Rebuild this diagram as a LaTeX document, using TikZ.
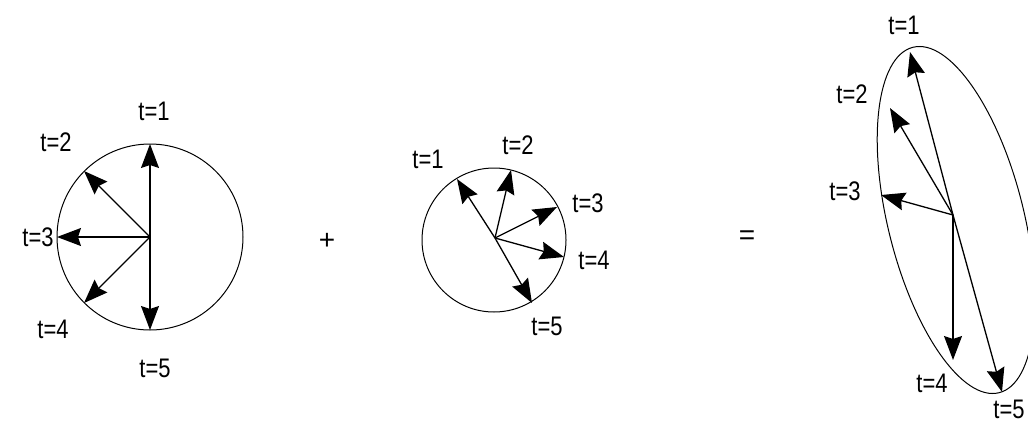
\documentclass[tikz,border=0pt]{standalone}
\usepackage{fontspec}
\usepackage{graphicx}
\setmainfont{Liberation Sans}
\usetikzlibrary{arrows.meta}
\newcommand\tallt[1]{\scalebox{1}[1.22]{#1}}
\begin{document}
\begin{tikzpicture}[x=1pt,y=-1pt,
  curve/.style={line width=1pt},
  vec/.style={line width=1.3pt,-{Stealth[length=24pt,width=18pt,inset=3pt]}},
  lbl/.style={inner sep=0pt,font=\fontsize{22}{26}\selectfont},
  opsign/.style={inner sep=0pt,font=\fontsize{28}{32}\selectfont}]
\useasboundingbox (0,0) rectangle (1028,423);
% ---------- first circle ----------
\coordinate (c1) at (150,237);
\draw[curve] (c1) circle[radius=93pt];
\coordinate (a1) at (150,144);
\coordinate (a2) at (84,171);
\coordinate (a3) at (57,237);
\coordinate (a4) at (84,303);
\coordinate (a5) at (150,330);
\foreach \i in {1,...,5} \draw[vec] (c1) -- (a\i);
\node[lbl] (la1) at (154,111) {\tallt{t=1}};
\node[lbl] (la2) at (56,142) {\tallt{t=2}};
\node[lbl] (la3) at (38,237) {\tallt{t=3}};
\node[lbl] (la4) at (53,329) {\tallt{t=4}};
\node[lbl] (la5) at (155,368) {\tallt{t=5}};
% ---------- plus ----------
\node[opsign] (plus) at (327,241) {+};
% ---------- second circle ----------
\coordinate (c2) at (494,240);
\coordinate (o2) at (495,238);
\draw[curve] (c2) circle[radius=72pt];
\coordinate (b1) at (457,179);
\coordinate (b2) at (511,170);
\coordinate (b3) at (557,207);
\coordinate (b4) at (564,257);
\coordinate (b5) at (532,303);
\foreach \i in {1,...,5} \draw[vec] (o2) -- (b\i);
\node[lbl] (lb1) at (428,159) {\tallt{t=1}};
\node[lbl] (lb2) at (518,145) {\tallt{t=2}};
\node[lbl] (lb3) at (588,203) {\tallt{t=3}};
\node[lbl] (lb4) at (594,260) {\tallt{t=4}};
\node[lbl] (lb5) at (547,326) {\tallt{t=5}};
% ---------- equals ----------
\node[opsign] (eq) at (747,238) {=};
% ---------- ellipse ----------
\coordinate (ec) at (956,220);
\coordinate (o3) at (953,215);
\draw[curve,rotate around={14:(ec)}] (ec) ellipse[x radius=68pt,y radius=178pt];
\coordinate (e1) at (910,52);
\coordinate (e2) at (890,108);
\coordinate (e3) at (881,195);
\coordinate (e4) at (953,360);
\coordinate (e5) at (1002,392);
\foreach \i in {1,...,5} \draw[vec] (o3) -- (e\i);
\node[lbl] (le1) at (904,25) {\tallt{t=1}};
\node[lbl] (le2) at (852,94) {\tallt{t=2}};
\node[lbl] (le3) at (845,191) {\tallt{t=3}};
\node[lbl] (le4) at (932,383) {\tallt{t=4}};
\node[lbl] (le5) at (1009,409) {\tallt{t=5}};
\end{tikzpicture}
\end{document}
